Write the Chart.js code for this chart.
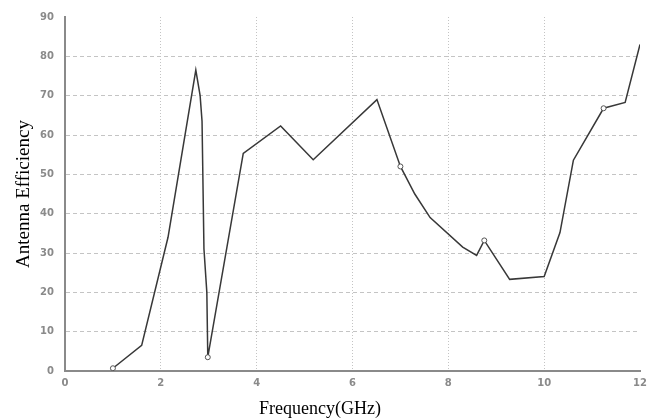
<!DOCTYPE html>
<html>
<head>
<meta charset="utf-8">
<script src="https://cdn.jsdelivr.net/npm/chart.js@4/dist/chart.umd.min.js"></script>
<style>
  html, body { margin: 0; padding: 0; background: #fff; }
  #grafico { display: block; }
</style>
</head>
<body>
<canvas id="grafico" width="659" height="419"></canvas>
<script>
// Datos
const freqGHz = [1.0, 1.6, 2.15, 2.73, 2.82, 2.86, 2.9, 2.96, 2.98, 3.72, 4.5, 5.18, 6.51, 7.0, 7.3, 7.62, 8.3, 8.59, 8.75, 9.28, 10.0, 10.33, 10.61, 11.24, 11.69, 12.0];
const efficiency = [0.7, 6.5, 34, 76.5, 70, 63.5, 31, 20, 3.5, 55.3, 62.3, 53.7, 69, 52, 45, 39, 31.5, 29.4, 33.2, 23.3, 24, 35.2, 53.6, 66.8, 68.3, 83];
// Puntos que llevan marcador
const markedFreqs = [1.0, 2.98, 7.0, 8.75, 11.24];
const xTicks = [0, 2, 4, 6, 8, 10, 12];
const yTicks = [0, 10, 20, 30, 40, 50, 60, 70, 80, 90];

const tickFont = { family: 'DejaVu Sans', size: 10, weight: 'bold' };

const fondoBlanco = {
  id: 'fondoBlanco',
  beforeDraw: (chart) => {
    const ctx = chart.ctx;
    ctx.save();
    ctx.fillStyle = '#fff';
    ctx.fillRect(0, 0, chart.width, chart.height);
    ctx.restore();
  }
};

const crearGrafico = () => {
  const data = {
    datasets: [{
      data: freqGHz.map((f, i) => ({ x: f, y: efficiency[i] })),
      borderColor: '#383838',
      borderWidth: 1.5,
      tension: 0,
      pointRadius: c => markedFreqs.includes(freqGHz[c.dataIndex]) ? 2.5 : 0,
      pointBorderColor: '#555',
      pointBackgroundColor: '#fff',
      pointBorderWidth: 1
    }]
  };

  const config = {
    type: 'line',
    data: data,
    options: {
      responsive: false,
      animation: false,
      layout: { padding: { left: 0, right: 19, top: 11, bottom: 0 } },
      plugins: {
        legend: { display: false },
        tooltip: { enabled: false },
        title: {
          display: true,
          position: 'bottom',
          text: 'Frequency(GHz)',
          color: '#000',
          font: { family: 'Liberation Serif', size: 18, weight: 'normal', lineHeight: 1 },
          padding: { top: 2, bottom: 1 }
        }
      },
      scales: {
        x: {
          type: 'linear',
          min: 0,
          max: 12,
          afterBuildTicks: s => { s.ticks = xTicks.map(v => ({ value: v })); },
          afterFit: s => { s.height = 27; },
          ticks: { color: '#8a8a8a', font: tickFont, padding: 6, maxRotation: 0 },
          grid: {
            drawTicks: false,
            color: c => (c.tick && (c.tick.value === 12 || c.tick.value === 0)) ? 'rgba(0,0,0,0)' : '#c4c4c4',
            lineWidth: 1
          },
          border: { display: true, color: '#8a8a8a', width: 2, dash: [1, 2] }
        },
        y: {
          min: 0,
          max: 90,
          afterBuildTicks: s => { s.ticks = yTicks.map(v => ({ value: v })); },
          afterFit: s => { s.width = 65; },
          ticks: { color: '#8a8a8a', font: tickFont, padding: 11 },
          grid: {
            drawTicks: false,
            color: c => (c.tick && (c.tick.value === 90 || c.tick.value === 0)) ? 'rgba(0,0,0,0)' : '#c4c4c4',
            lineWidth: 1
          },
          border: { display: true, color: '#8a8a8a', width: 2, dash: [4, 3] },
          title: {
            display: true,
            text: 'Antenna Efficiency',
            color: '#000',
            font: { family: 'Liberation Serif', size: 19, weight: 'normal', lineHeight: 1.2 },
            padding: { top: 13, bottom: 0 }
          }
        }
      }
    },
    plugins: [fondoBlanco]
  };

  new Chart(document.querySelector('#grafico').getContext('2d'), config);
};

crearGrafico();
</script>
</body>
</html>
